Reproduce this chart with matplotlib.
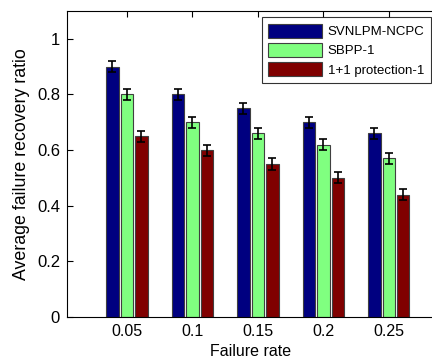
import numpy as np
import matplotlib
matplotlib.use("Agg")
import matplotlib.pyplot as plt

plt.rcParams["font.family"] = ["Liberation Sans", "DejaVu Sans"]

rates = ["0.05", "0.1", "0.15", "0.2", "0.25"]
series = ["SVNLPM-NCPC", "SBPP-1", "1+1 protection-1"]
svnlpm = [0.90, 0.80, 0.75, 0.70, 0.66]
sbpp = [0.80, 0.70, 0.66, 0.62, 0.57]
one_plus_one = [0.65, 0.60, 0.55, 0.50, 0.44]
err = [0.02, 0.02, 0.02, 0.02, 0.02]

colors = [(0, 0, 0.5), (0.5, 1, 0.5), (0.5, 0, 0)]

W, H = 432, 361
fig = plt.figure(figsize=(W / 100, H / 100), dpi=100)
ax_left, ax_right, ax_top, ax_bottom = 67, 434, 11, 317
ax = fig.add_axes([ax_left / W, 1 - ax_bottom / H,
                   (ax_right - ax_left) / W, (ax_bottom - ax_top) / H])

x = np.arange(1, len(rates) + 1)
offset = 0.221
width = 0.188
for i, (vals, name) in enumerate(zip([svnlpm, sbpp, one_plus_one], series)):
    pos = x + (i - 1) * offset
    ax.bar(pos, vals, width, color=colors[i], edgecolor="#404040",
           linewidth=0.8, label=name, zorder=2)
    ax.errorbar(pos, vals, yerr=err, fmt="none", ecolor="black",
                elinewidth=1.2, capsize=3, capthick=1.2, zorder=3)

ax.set_xlim(0.084, 5.69)
ax.set_ylim(0, 1.1)
ax.set_xticks(x)
ax.set_xticklabels(rates)
ax.set_yticks([0, 0.2, 0.4, 0.6, 0.8, 1])
ax.set_yticklabels(["0", "0.2", "0.4", "0.6", "0.8", "1"])
ax.tick_params(direction="in", length=4, labelsize=12, top=True, right=False,
               pad=5)
ax.tick_params(axis="x", labelsize=11.5)
ax.spines["right"].set_visible(False)
for s in ["left", "bottom", "top"]:
    ax.spines[s].set_linewidth(0.8)

ax.set_xlabel("Failure rate", fontsize=11.5, labelpad=4)
ax.set_ylabel("Average failure recovery ratio", fontsize=12.8, labelpad=5)

# legend box pinned to the upper right corner
bx = (431 - ax_left) / (ax_right - ax_left)
by = 1 - (17 - ax_top) / (ax_bottom - ax_top)
leg = ax.legend(loc="upper right", bbox_to_anchor=(bx, by), fontsize=9.5,
                frameon=True, fancybox=False, edgecolor="black",
                handlelength=4.1, handleheight=1.3, borderpad=0.5,
                labelspacing=0.35, handletextpad=0.4, borderaxespad=0)
leg.get_frame().set_linewidth(0.8)

fig.savefig("out.png", dpi=100)
